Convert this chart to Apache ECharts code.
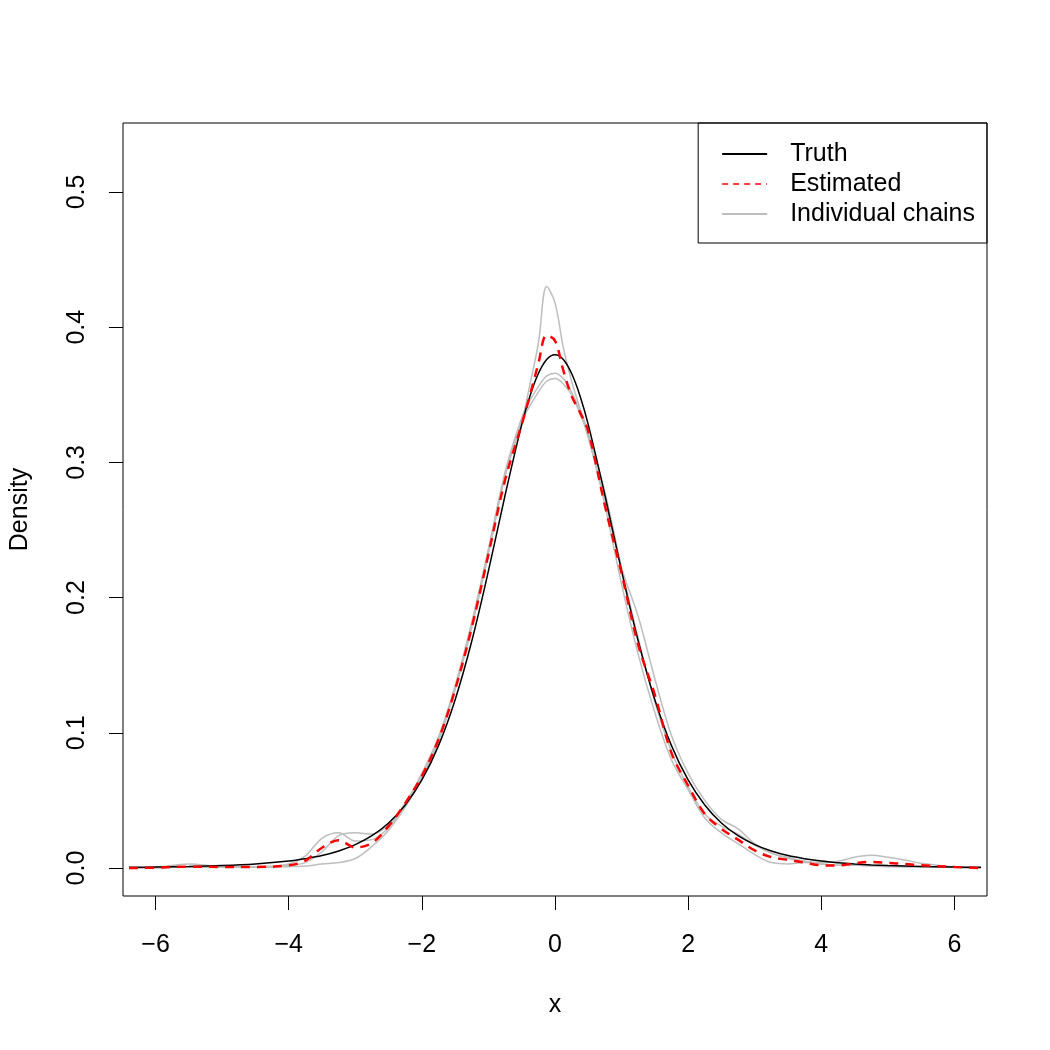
<!DOCTYPE html>
<html>
<head>
<meta charset="utf-8">
<script src="https://cdn.jsdelivr.net/npm/echarts@6/dist/echarts.min.js"></script>
<style>
html,body{margin:0;padding:0;background:#fff;}
#chart{width:1050px;height:1050px;}
</style>
</head>
<body>
<div id="chart"></div>
<script>
const xs = [-6.4,-6,-5.5,-5,-4.5,-4,-3.75,-3.5,-3.25,-3,
  -2.75,-2.5,-2.25,-2,-1.75,-1.5,-1.25,-1,-0.75,-0.5,
  -0.375,-0.25,-0.125,0,0.125,0.25,0.375,0.5,0.75,1,
  1.25,1.5,1.75,2,2.25,2.5,2.75,3,3.25,3.5,
  3.75,4,4.25,4.5,4.75,5,5.25,5.5,6,6.4];

const truth = [0.0005,0.0007,0.0011,0.0018,0.0030,0.0051,0.0069,0.0092,0.0126,0.0173,
  0.0239,0.0333,0.0466,0.0651,0.0905,0.1245,0.1679,0.2197,0.2757,0.3279,
  0.3493,0.3657,0.3761,0.3796,0.3761,0.3657,0.3493,0.3279,0.2757,0.2197,
  0.1679,0.1245,0.0905,0.0651,0.0466,0.0333,0.0239,0.0173,0.0126,0.0092,
  0.0069,0.0051,0.0039,0.0030,0.0023,0.0018,0.0014,0.0011,0.0007,0.0005];

const estimated = [0,0.0003,0.001,0.0008,0.0008,0.002,0.0055,0.015,0.0205,0.0152,
  0.0185,0.031,0.048,0.068,0.095,0.132,0.178,0.232,0.287,0.328,
  0.35,0.373,0.394,0.39,0.368,0.349,0.337,0.323,0.268,0.218,
  0.165,0.128,0.085,0.061,0.04,0.029,0.021,0.013,0.008,0.006,
  0.004,0.002,0.0018,0.0035,0.0045,0.0038,0.003,0.002,0.0008,0];

const chainA = [0,0,0.001,0.0005,0.0005,0.003,0.009,0.022,0.026,0.02,
  0.021,0.03,0.047,0.068,0.095,0.133,0.18,0.235,0.29,0.33,
  0.358,0.388,0.43,0.418,0.385,0.36,0.34,0.322,0.278,0.222,
  0.17,0.123,0.086,0.06,0.04,0.031,0.025,0.017,0.011,0.007,
  0.005,0.003,0.002,0.002,0.002,0.0015,0.001,0.001,0.0005,0];

const chainB = [0,0.0005,0.003,0.001,0.001,0.002,0.004,0.012,0.024,0.026,
  0.025,0.032,0.048,0.07,0.097,0.135,0.182,0.236,0.293,0.333,
  0.346,0.356,0.364,0.366,0.362,0.352,0.338,0.318,0.272,0.222,
  0.186,0.14,0.098,0.07,0.05,0.036,0.029,0.018,0.011,0.008,
  0.005,0.004,0.005,0.008,0.0095,0.008,0.006,0.0035,0.0008,0];

const chainC = [0,0.0003,0.0005,0.0005,0.0005,0.001,0.0015,0.003,0.004,0.007,
  0.016,0.028,0.045,0.066,0.094,0.132,0.178,0.232,0.29,0.33,
  0.342,0.352,0.36,0.362,0.358,0.35,0.336,0.32,0.268,0.21,
  0.158,0.115,0.08,0.058,0.037,0.026,0.018,0.01,0.004,0.003,
  0.004,0.003,0.002,0.002,0.0015,0.001,0.001,0.001,0.0005,0];

const xTicks = [-6,-4,-2,0,2,4,6];
const yTicks = [0,0.1,0.2,0.3,0.4,0.5];

const FONT = 'Liberation Sans';
const pairs = ys => xs.map((x,i) => [x, ys[i]]);

const chainStyle = {color:'#bebebe', width:1.5};
function chain(ys){
  return {name:'Individual chains', type:'line', data:pairs(ys), symbol:'none', smooth:0.35,
    lineStyle:chainStyle, itemStyle:{color:'#bebebe'}, z:2};
}

const chart = echarts.init(document.getElementById('chart'));
chart.setOption({
  backgroundColor:'#fff',
  animation:false,
  textStyle:{fontFamily:FONT},
  grid:{left:123, right:63, top:123, bottom:154, show:true, borderColor:'#000', borderWidth:1,
    backgroundColor:'transparent', containLabel:false, outerBoundsMode:'none'},
  legend:{
    orient:'vertical', right:63, top:123,
    data:[
      {name:'Truth'},
      {name:'Estimated', lineStyle:{width:1.5, type:[6,5]}},
      {name:'Individual chains'}
    ],
    itemWidth:45, itemHeight:14, itemGap:0,
    itemStyle:{opacity:0},
    textStyle:{fontSize:25, lineHeight:30, color:'#000', fontFamily:FONT, padding:[0,0,0,18]},
    padding:[16,12,14,23],
    borderColor:'#000', borderWidth:1, borderRadius:0,
    selectedMode:false
  },
  xAxis:{
    type:'value', min:-6.49, max:6.49, position:'bottom',
    name:'x', nameLocation:'middle', nameGap:97,
    nameTextStyle:{fontSize:25, color:'#000', fontFamily:FONT},
    axisLine:{show:false, onZero:false},
    splitLine:{show:false},
    axisTick:{show:true, inside:false, length:14, customValues:xTicks, lineStyle:{color:'#000', width:1}},
    axisLabel:{customValues:xTicks, fontSize:25, color:'#000', fontFamily:FONT, margin:37,
      formatter: v => String(v).replace('-', '\u2212')}
  },
  yAxis:{
    type:'value', min:-0.0207, max:0.551, position:'left',
    name:'Density', nameLocation:'middle', nameGap:90, nameRotate:90,
    nameTextStyle:{fontSize:25, color:'#000', fontFamily:FONT},
    axisLine:{show:false, onZero:false},
    splitLine:{show:false},
    axisTick:{show:true, inside:false, length:14, customValues:yTicks, lineStyle:{color:'#000', width:1}},
    axisLabel:{customValues:yTicks, fontSize:25, color:'#000', fontFamily:FONT, margin:33, rotate:90,
      formatter: v => Number(v).toFixed(1)}
  },
  series:[
    chain(chainA),
    chain(chainB),
    chain(chainC),
    {name:'Truth', type:'line', data:pairs(truth), symbol:'none', smooth:0.35,
      lineStyle:{color:'#000', width:1.5}, itemStyle:{color:'#000'}, z:3},
    {name:'Estimated', type:'line', data:pairs(estimated), symbol:'none', smooth:0.35,
      lineStyle:{color:'#ff0000', width:2.5, type:[9,7]}, itemStyle:{color:'#ff0000'}, z:4}
  ]
});
</script>
</body>
</html>
